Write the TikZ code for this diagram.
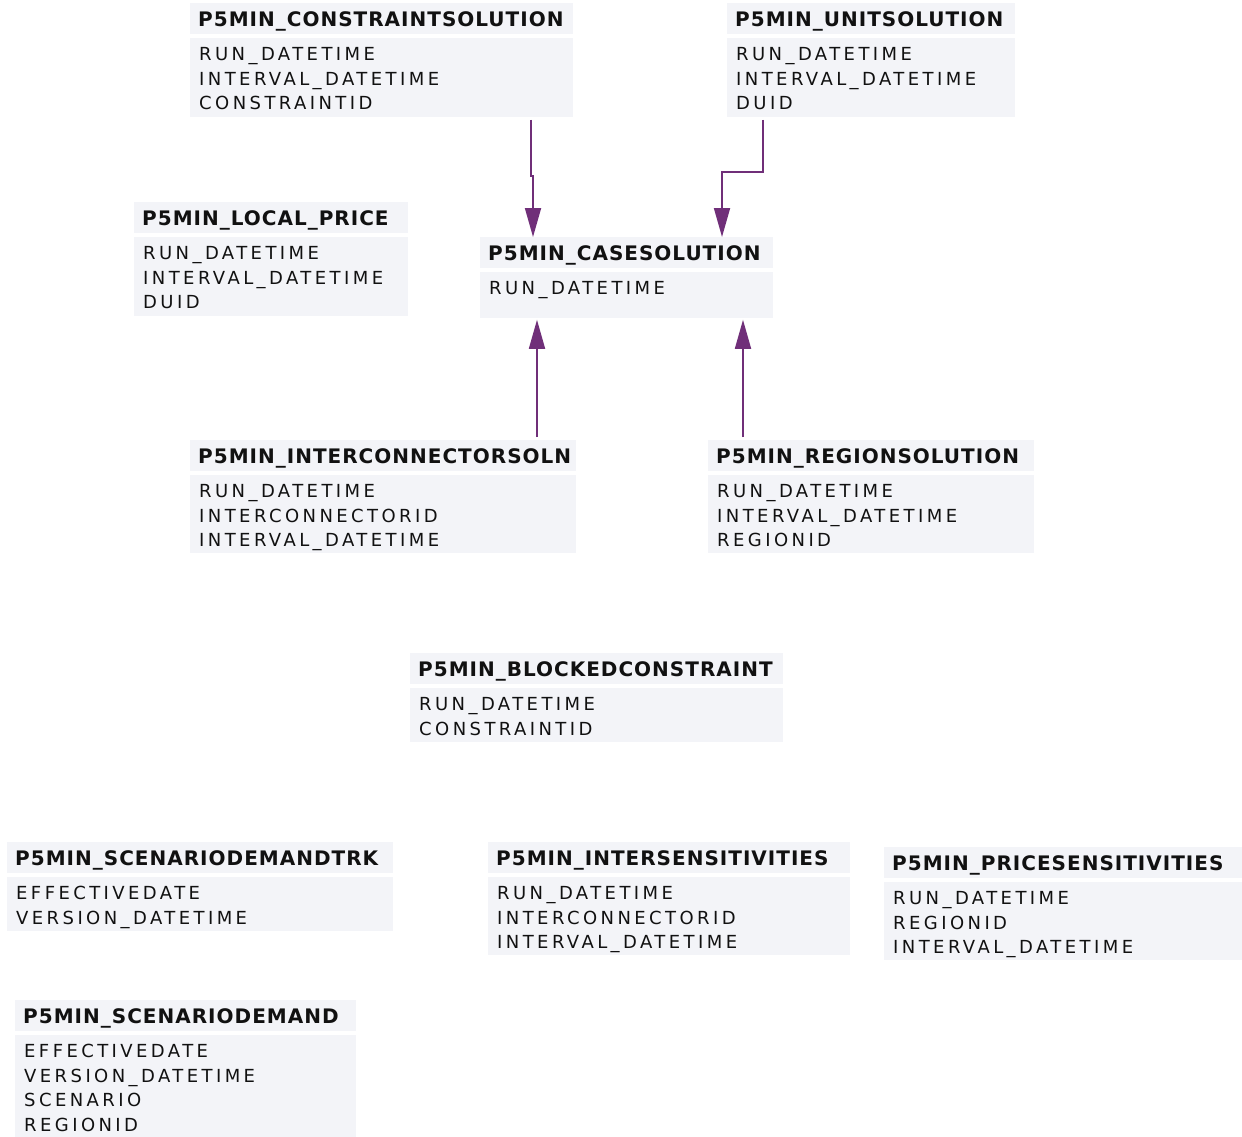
\documentclass[tikz,border=0pt]{standalone}
\usepackage{fontspec}
\setmainfont{DejaVu Sans}
\newfontfamily\hdrfont[LetterSpace=5]{DejaVu Sans}
\newfontfamily\fldfont[LetterSpace=19]{DejaVu Sans}
\usetikzlibrary{arrows.meta,calc}
\definecolor{boxbg}{HTML}{F3F4F8}
\definecolor{relc}{HTML}{702F79}
\definecolor{txtc}{HTML}{111111}
\tikzset{
  hdrbox/.style={fill=boxbg,draw=none,inner sep=0pt,minimum height=31pt},
  bodybox/.style={fill=boxbg,draw=none,inner sep=0pt},
  hdrtxt/.style={anchor=base west,inner sep=0pt,text=txtc,font={\hdrfont\bfseries\fontsize{20}{22}\selectfont}},
  fldtxt/.style={anchor=base west,inner sep=0pt,text=txtc,font={\fldfont\fontsize{18}{20}\selectfont}},
  conn/.style={draw=relc,line width=1.8pt,-{Triangle[length=29pt,width=16pt]}}
}
\newcommand\ertable[7]{%
  \node[hdrbox,minimum width=#4pt,anchor=north west] (#1h) at (#2,#3) {};
  \node[hdrtxt] (#1t) at ($(#1h.north west)+(8,23.5)$) {#6};
  \node[bodybox,minimum width=#4pt,minimum height=#5pt,anchor=north west] (#1) at ($(#1h.south west)+(0,3)$) {};
  \foreach \f [count=\i] in {#7} {\node[fldtxt] (#1f\i) at ($(#1.north west)+(9,-1.7+24.7*\i)$) {\f};}
}
\begin{document}
\begin{tikzpicture}[x=1pt,y=-1pt]
\useasboundingbox[fill=white] (0,0) rectangle (1242,1136);
\ertable{cs}{190}{3}{383}{79}{P5MIN\_CONSTRAINTSOLUTION}{RUN\_DATETIME,INTERVAL\_DATETIME,CONSTRAINTID}
\ertable{us}{727}{3}{288}{79}{P5MIN\_UNITSOLUTION}{RUN\_DATETIME,INTERVAL\_DATETIME,DUID}
\ertable{lp}{134}{202}{274}{79}{P5MIN\_LOCAL\_PRICE}{RUN\_DATETIME,INTERVAL\_DATETIME,DUID}
\ertable{csol}{480}{237}{293}{46}{P5MIN\_CASESOLUTION}{RUN\_DATETIME}
\ertable{ic}{190}{440}{386}{78}{P5MIN\_INTERCONNECTORSOLN}{RUN\_DATETIME,INTERCONNECTORID,INTERVAL\_DATETIME}
\ertable{rs}{708}{440}{326}{78}{P5MIN\_REGIONSOLUTION}{RUN\_DATETIME,INTERVAL\_DATETIME,REGIONID}
\ertable{bc}{410}{653}{373}{54}{P5MIN\_BLOCKEDCONSTRAINT}{RUN\_DATETIME,CONSTRAINTID}
\ertable{sdt}{7}{842}{386}{54}{P5MIN\_SCENARIODEMANDTRK}{EFFECTIVEDATE,VERSION\_DATETIME}
\ertable{isens}{488}{842}{362}{78}{P5MIN\_INTERSENSITIVITIES}{RUN\_DATETIME,INTERCONNECTORID,INTERVAL\_DATETIME}
\ertable{ps}{884}{847}{358}{78}{P5MIN\_PRICESENSITIVITIES}{RUN\_DATETIME,REGIONID,INTERVAL\_DATETIME}
\ertable{sd}{15}{1000}{341}{104}{P5MIN\_SCENARIODEMAND}{EFFECTIVEDATE,VERSION\_DATETIME,SCENARIO,REGIONID}
% relationships
\draw[conn] ([xshift=341pt,yshift=-3pt]cs.south west) -- ++(0,56) -- ++(2,0) -- ([xshift=53pt]csolh.north west);
\draw[conn] ([xshift=36pt,yshift=-3pt]us.south west) -- ++(0,52) -| ([xshift=242pt]csolh.north west);
\draw[conn] ([xshift=347pt,yshift=3pt]ich.north west) -- ([xshift=57pt,yshift=-2pt]csol.south west);
\draw[conn] ([xshift=35pt,yshift=3pt]rsh.north west) -- ([xshift=263pt,yshift=-2pt]csol.south west);
\end{tikzpicture}
\end{document}
